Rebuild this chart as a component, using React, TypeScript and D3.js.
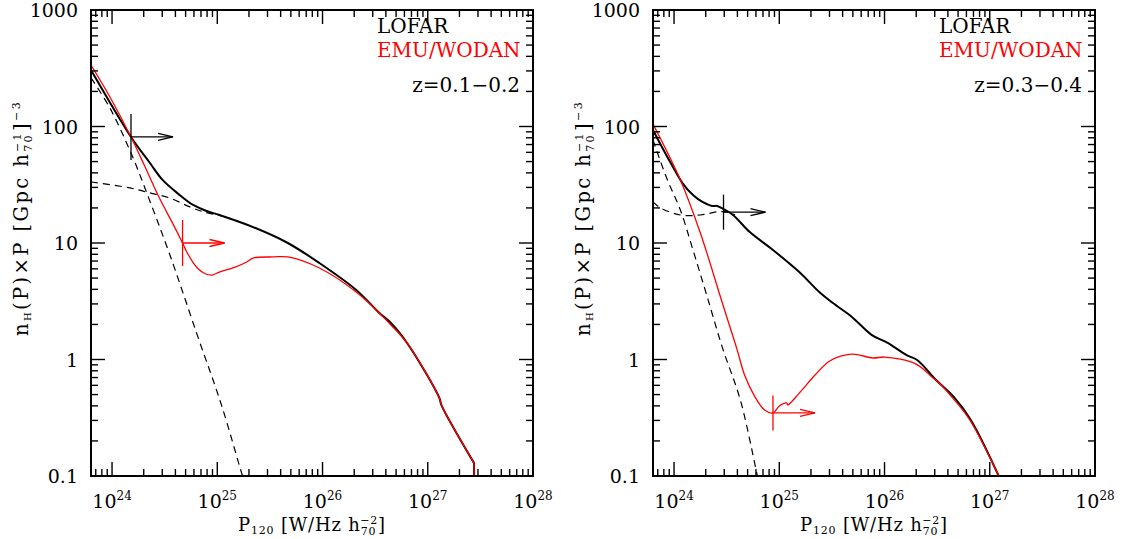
import React from "react";
import * as d3 from "d3";

const W = 1126;
const H = 539;

// Frame of each panel, in pixels
const PANEL_W = 442;
const TOP = 10;
const BOTTOM = 476;
const PANEL_LEFTS = [91, 653];

// Axis ranges and tick labels
const X_EXP_MIN = 23.8;
const X_EXP_MAX = 28;
const Y_MIN = 0.1;
const Y_MAX = 1000;
const X_TICK_EXPS = [24, 25, 26, 27, 28];
const Y_TICK_VALUES = [0.1, 1, 10, 100, 1000];
const Y_TICK_LABELS = ["0.1", "1", "10", "100", "1000"];

// z = 0.1-0.2 : log10 P (W/Hz) and n_H(P) x P
const lofarLowLogP = [23.8, 24.18, 24.36, 24.48, 24.63, 24.77, 24.9, 25.02, 25.34, 25.67, 25.97, 26.32, 26.54, 26.65, 26.81, 27.11, 27.13, 27.44, 27.44];
const lofarLowN = [305, 81.3, 48.6, 34.8, 26.4, 21.2, 18.8, 17.4, 13.7, 10.0, 6.73, 3.95, 2.51, 2.06, 1.36, 0.468, 0.406, 0.129, 0.1];
const emuLowLogP = [23.8, 23.98, 24.18, 24.31, 24.45, 24.57, 24.67, 24.72, 24.81, 24.89, 24.95, 25.02, 25.17, 25.28, 25.34, 25.53, 25.67, 25.97, 26.32, 26.65, 26.81, 27.11, 27.13, 27.44, 27.44];
const emuLowN = [337, 179, 81.3, 45.8, 24.3, 15.1, 10.0, 8.05, 6.1, 5.42, 5.31, 5.63, 6.22, 6.87, 7.43, 7.59, 7.59, 6.1, 3.79, 1.98, 1.36, 0.468, 0.406, 0.129, 0.1];
const steepLowLogP = [23.8, 23.98, 24.2, 24.33, 24.55, 24.81, 25.04, 25.24, 25.29];
const steepLowN = [261, 144, 53.7, 26.9, 7.89, 1.62, 0.406, 0.1, 0.073];
const flatLowLogP = [23.8, 24.17, 24.36, 24.55, 24.74, 24.88, 25.04];
const flatLowN = [33.4, 29.7, 26.9, 24.3, 20.4, 18.4, 17.1];
// completeness limits: [log10 P, n] for LOFAR and EMU/WODAN
const limitsLow = [
  { logP: 24.18, n: 81.3, color: "#000000" },
  { logP: 24.67, n: 10.0, color: "#ff0000" },
];

// z = 0.3-0.4
const lofarHighLogP = [23.8, 23.9, 23.99, 24.08, 24.18, 24.27, 24.36, 24.41, 24.45, 24.56, 24.72, 24.94, 25.19, 25.38, 25.51, 25.69, 25.88, 26.03, 26.21, 26.31, 26.49, 26.66, 26.82, 27.09];
const lofarHighN = [93.3, 62.9, 44.9, 32.7, 25.8, 22.5, 20.8, 20.8, 20.0, 17.4, 12.4, 8.71, 5.63, 3.8, 3.05, 2.32, 1.62, 1.39, 1.09, 0.991, 0.667, 0.476, 0.303, 0.098];
const emuHighLogP = [23.8, 24.06, 24.25, 24.45, 24.6, 24.67, 24.77, 24.86, 24.94, 25.0, 25.07, 25.08, 25.19, 25.34, 25.48, 25.69, 25.89, 26.0, 26.3, 26.45, 26.52, 26.64, 26.81, 27.09];
const emuHighN = [105, 34.8, 12.2, 3.24, 1.21, 0.736, 0.476, 0.368, 0.348, 0.399, 0.424, 0.407, 0.515, 0.736, 0.971, 1.11, 1.03, 1.05, 0.914, 0.708, 0.628, 0.476, 0.303, 0.098];
const steepHighLogP = [23.8, 23.93, 24.06, 24.18, 24.31, 24.46, 24.63, 24.77, 24.8];
const steepHighN = [76.6, 36.1, 19.2, 8.71, 3.58, 1.26, 0.449, 0.124, 0.092];
const flatHighLogP = [23.8, 23.87, 24.06, 24.25, 24.41, 24.5, 24.58];
const flatHighN = [22.5, 20.0, 17.4, 17.4, 18.5, 18.5, 17.4];
const limitsHigh = [
  { logP: 24.47, n: 18.4, color: "#000000" },
  { logP: 24.94, n: 0.348, color: "#ff0000" },
];

const zLabels = ["z=0.1\u22120.2", "z=0.3\u22120.4"];

const FONT = "'DejaVu Serif', 'Liberation Serif', serif";

type Pt = [number, number];
const zip = (lp: number[], n: number[]): Pt[] => lp.map((e, i) => [Math.pow(10, e), n[i]]);

interface PanelProps {
  idx: number;
  left: number;
  lofar: Pt[];
  emu: Pt[];
  steep: Pt[];
  flat: Pt[];
  limits: { logP: number; n: number; color: string }[];
  barHalf: number;
  zLabel: string;
}

function Panel({ idx, left, lofar, emu, steep, flat, limits, barHalf, zLabel }: PanelProps) {
  const right = left + PANEL_W;
  const x = d3.scaleLog().domain([Math.pow(10, X_EXP_MIN), Math.pow(10, X_EXP_MAX)]).range([left, right]);
  const y = d3.scaleLog().domain([Y_MIN, Y_MAX]).range([BOTTOM, TOP]);
  const smooth = d3
    .line<Pt>()
    .x((d) => x(d[0]))
    .y((d) => y(d[1]))
    .curve(d3.curveCatmullRom.alpha(0.5));

  // smooth curve; a closing vertical drop (repeated P) is drawn as a straight segment
  const curvePath = (pts: Pt[]): string => {
    const n = pts.length;
    if (n > 2 && pts[n - 1][0] === pts[n - 2][0]) {
      const last = pts[n - 1];
      return (smooth(pts.slice(0, -1)) || "") + `L${x(last[0])},${y(last[1])}`;
    }
    return smooth(pts) || "";
  };

  const xTicks: { v: number; major: boolean }[] = [];
  for (let d = 23; d <= 28; d++) {
    for (let m = 1; m <= 9; m++) {
      const v = m * Math.pow(10, d);
      const e = Math.log10(v);
      if (e >= X_EXP_MIN - 1e-9 && e <= X_EXP_MAX + 1e-9) xTicks.push({ v, major: m === 1 });
    }
  }
  const yTicks: { v: number; major: boolean }[] = [];
  for (let d = -1; d <= 3; d++) {
    for (let m = 1; m <= 9; m++) {
      const v = m * Math.pow(10, d);
      if (v >= Y_MIN * 0.999 && v <= Y_MAX * 1.001) yTicks.push({ v, major: m === 1 });
    }
  }

  const clipId = `clip-${idx}`;
  const majorLen = 14;
  const minorLen = 7;
  const cx = left + PANEL_W / 2;

  return (
    <g>
      <defs>
        <clipPath id={clipId}>
          <rect x={left} y={TOP} width={PANEL_W} height={BOTTOM - TOP} />
        </clipPath>
      </defs>

      <g clipPath={`url(#${clipId})`} fill="none">
        <path d={curvePath(steep)} stroke="#000" strokeWidth={1.2} strokeDasharray="7,5" />
        <path d={curvePath(flat)} stroke="#000" strokeWidth={1.2} strokeDasharray="7,5" />
        <path d={curvePath(lofar)} stroke="#000" strokeWidth={2} strokeLinejoin="round" />
        <path d={curvePath(emu)} stroke="#ff0000" strokeWidth={1.3} strokeLinejoin="round" />
      </g>

      {limits.map((a, i) => {
        const ax = x(Math.pow(10, a.logP));
        const ay = y(a.n);
        const tip = ax + 42;
        return (
          <g key={i} stroke={a.color} strokeWidth={1.3} fill="none">
            <line x1={ax} x2={ax} y1={ay - barHalf} y2={ay + barHalf} />
            <line x1={ax} x2={tip} y1={ay} y2={ay} />
            <path d={`M${tip - 15},${ay - 3.5}L${tip},${ay}L${tip - 15},${ay + 3.5}`} />
          </g>
        );
      })}

      {/* frame */}
      <rect x={left} y={TOP} width={PANEL_W} height={BOTTOM - TOP} fill="none" stroke="#000" strokeWidth={2} />

      {/* ticks on all four sides, pointing inward */}
      <g stroke="#000" strokeWidth={1.4}>
        {xTicks.map((t, i) => {
          const px = x(t.v);
          const L = t.major ? majorLen : minorLen;
          return (
            <g key={`x${i}`}>
              <line x1={px} x2={px} y1={BOTTOM} y2={BOTTOM - L} />
              <line x1={px} x2={px} y1={TOP} y2={TOP + L} />
            </g>
          );
        })}
        {yTicks.map((t, i) => {
          const py = y(t.v);
          const L = t.major ? majorLen : minorLen;
          return (
            <g key={`y${i}`}>
              <line x1={left} x2={left + L} y1={py} y2={py} />
              <line x1={right} x2={right - L} y1={py} y2={py} />
            </g>
          );
        })}
      </g>

      {/* tick labels */}
      <g fontFamily={FONT} fill="#000">
        {Y_TICK_VALUES.map((v, i) => (
          <text key={`yl${i}`} x={left - 13} y={y(v) + 7} fontSize={19} textAnchor="end">
            {Y_TICK_LABELS[i]}
          </text>
        ))}
        {X_TICK_EXPS.map((e) => (
          <text key={`xl${e}`} x={x(Math.pow(10, e))} y={508} fontSize={19} textAnchor="middle">
            10
            <tspan fontSize={12} dy={-8}>{e}</tspan>
          </text>
        ))}
      </g>

      {/* axis titles */}
      <text x={cx} y={531} fontFamily={FONT} fontSize={18} letterSpacing={0.8} textAnchor="middle" fill="#000">
        P
        <tspan fontSize={11} dy={3}>120</tspan>
        <tspan dy={-3}>{" [W/Hz h"}</tspan>
        <tspan fontSize={11} dy={4}>70</tspan>
        <tspan fontSize={11} dx={-16} dy={-11}>{"\u22122"}</tspan>
        <tspan dy={7}>]</tspan>
      </text>
      <text
        transform={`translate(${left - 63},218) rotate(-90)`}
        fontFamily={FONT}
        fontSize={19.5}
        letterSpacing={2.4}
        textAnchor="middle"
        fill="#000"
      >
        n
        <tspan fontSize={10} dy={3}>H</tspan>
        <tspan dy={-3}>{"(P)\u00d7P  [Gpc h"}</tspan>
        <tspan fontSize={11} dy={4}>70</tspan>
        <tspan fontSize={11} dx={-19} dy={-11}>{"\u22121"}</tspan>
        <tspan dy={7}>]</tspan>
        <tspan fontSize={11} dy={-8}>{"\u22123"}</tspan>
      </text>

      {/* legend and redshift bin */}
      <g fontFamily={FONT} fontSize={20}>
        <text x={left + 286} y={33} fill="#000">LOFAR</text>
        <text x={left + 286} y={57} fill="#ff0000">EMU/WODAN</text>
        <text x={left + 429} y={92} fill="#000" textAnchor="end">{zLabel}</text>
      </g>
    </g>
  );
}

export default function App() {
  return (
    <svg width={W} height={H} viewBox={`0 0 ${W} ${H}`} style={{ display: "block", position: "absolute", left: 0, top: 0, background: "#fff" }}>
      <rect x={0} y={0} width={W} height={H} fill="#fff" />
      <Panel
        idx={0}
        left={PANEL_LEFTS[0]}
        lofar={zip(lofarLowLogP, lofarLowN)}
        emu={zip(emuLowLogP, emuLowN)}
        steep={zip(steepLowLogP, steepLowN)}
        flat={zip(flatLowLogP, flatLowN)}
        limits={limitsLow}
        barHalf={23}
        zLabel={zLabels[0]}
      />
      <Panel
        idx={1}
        left={PANEL_LEFTS[1]}
        lofar={zip(lofarHighLogP, lofarHighN)}
        emu={zip(emuHighLogP, emuHighN)}
        steep={zip(steepHighLogP, steepHighN)}
        flat={zip(flatHighLogP, flatHighN)}
        limits={limitsHigh}
        barHalf={17.5}
        zLabel={zLabels[1]}
      />
    </svg>
  );
}
